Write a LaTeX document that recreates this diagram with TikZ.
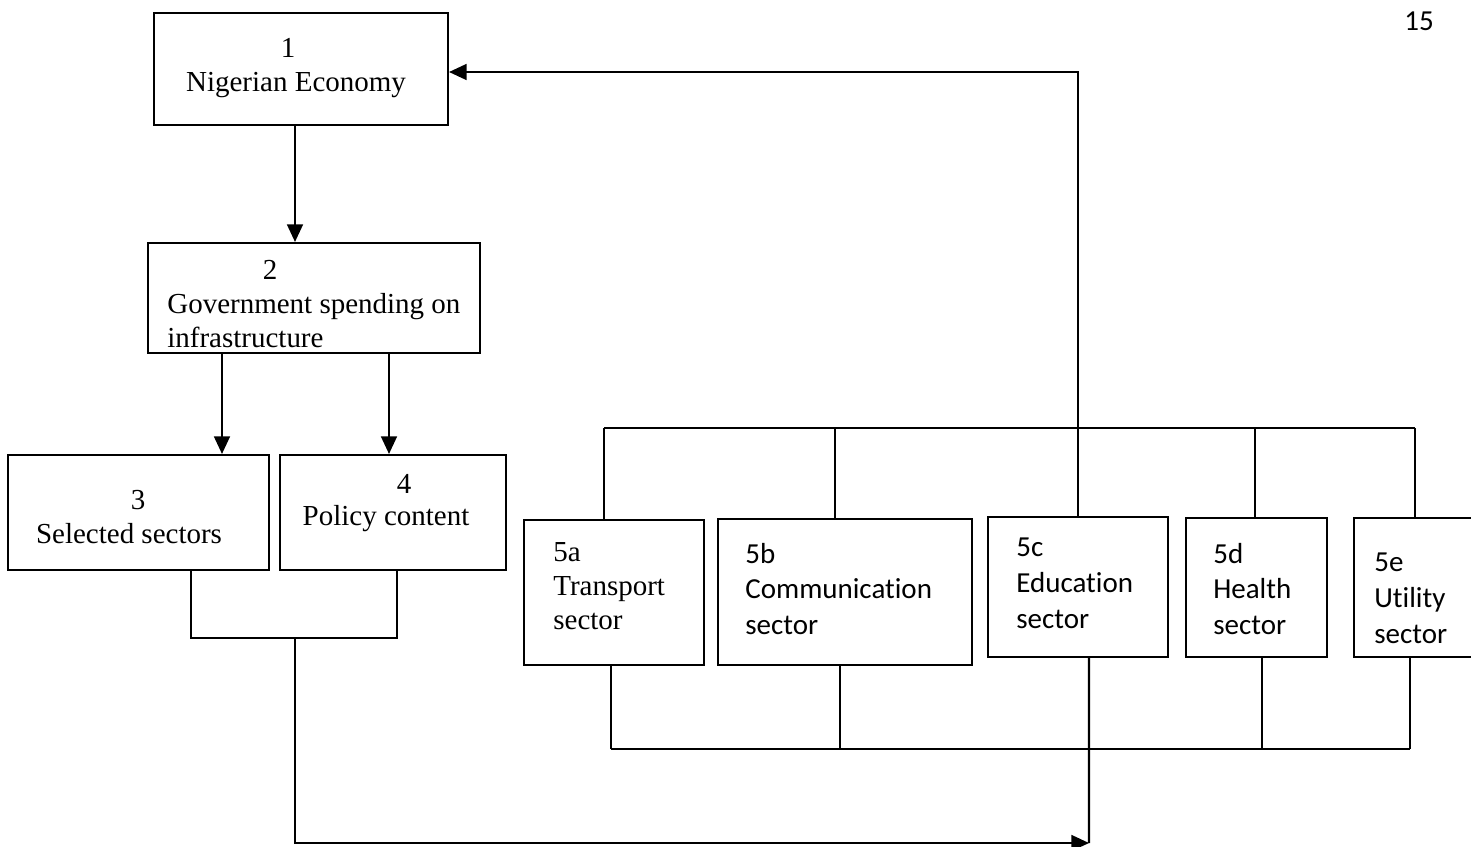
\documentclass[tikz,border=0pt]{standalone}
\usepackage{fontspec}
\setmainfont{Liberation Serif}
\newfontfamily\calibrifont[Ligatures=NoCommon]{Carlito}
\usetikzlibrary{positioning, arrows.meta, calc}

\tikzset{
	sbox/.style={draw, line width=1.2pt, inner sep=0pt},
	stxt/.style={inner sep=0pt, align=left, font=\fontsize{16.5}{19.3}\selectfont},
	ctxt/.style={inner sep=0pt, align=left, font=\calibrifont\fontsize{16.5}{20.4}\selectfont},
	link/.style={line width=1.2pt},
	arr/.style={line width=1.2pt, -{Triangle[length=10pt,width=9pt]}}
}

\begin{document}
\begin{tikzpicture}[x=0.02cm, y=-0.02cm]
	\useasboundingbox (0,0) rectangle (1471,846);

	% boxes
	\node [sbox, minimum width=5.88cm, minimum height=2.24cm] (n1) at (301,69) {};
	\node [sbox, minimum width=6.64cm, minimum height=2.2cm] (n2) at (314,298) {};
	\node [sbox, minimum width=5.22cm, minimum height=2.3cm] (n3) at (138.5,512.5) {};
	\node [sbox, minimum width=4.52cm, minimum height=2.3cm] (n4) at (393,512.5) {};
	\node [sbox, minimum width=3.6cm, minimum height=2.9cm] (n5a) at (614,592.5) {};
	\node [sbox, minimum width=5.08cm, minimum height=2.92cm] (n5b) at (845,592) {};
	\node [sbox, minimum width=3.6cm, minimum height=2.8cm] (n5c) at (1078,587) {};
	\node [sbox, minimum width=2.82cm, minimum height=2.78cm] (n5d) at (1256.5,587.5) {};
	\node [sbox, minimum width=2.44cm, minimum height=2.78cm] (n5e) at (1415,587.5) {};

	% texts
	\node [stxt] (t1num) at (288,48) {1};
	\node [stxt] (t1) at (296,85) {Nigerian Economy};
	\node [stxt] (t2num) at (270,270) {2};
	\node [stxt, anchor=west] (t2) at (167,321) {Government spending on\\infrastructure};
	\node [stxt] (t3num) at (138,500) {3};
	\node [stxt] (t3) at (129,534) {Selected sectors};
	\node [stxt] (t4num) at (404,484) {4};
	\node [stxt] (t4) at (386,519) {Policy content};
	\node [stxt, anchor=west] (t5a) at (553,586) {5a\\Transport\\sector};
	\node [ctxt, anchor=west] (t5b) at (745,589) {5b\\Communication\\sector};
	\node [ctxt, anchor=west] (t5c) at (1016,583) {5c\\Education\\sector};
	\node [ctxt, anchor=west] (t5d) at (1213,589) {5d\\Health\\sector};
	\node [ctxt, anchor=west] (t5e) at (1374,598) {5e\\Utility\\sector};
	\node [ctxt] (pg) at (1419,21) {15};

	% bus lines and joins
	\coordinate (tb) at (0,428);
	\coordinate (bb) at (0,749);
	\coordinate (j34) at (295,638);
	\coordinate (tip) at (1089,843);

	% left side
	\draw [arr] ([xshift=-0.12cm]n1.south) -- ([xshift=-0.12cm]n1.south |- n2.north);
	\draw [arr] ([xshift=1.67cm]n3.north |- n2.south) -- ([xshift=1.67cm]n3.north);
	\draw [arr] ([xshift=-0.08cm]n4.north |- n2.south) -- ([xshift=-0.08cm]n4.north);
	\draw [link] ([xshift=1.05cm]n3.south) |- (j34) -| ([xshift=0.08cm]n4.south);
	\draw [arr] (j34) |- (tip);

	% sector 5 top bus and feedback to 1
	\draw [link] ([xshift=-0.2cm]n5a.north |- tb) -- (n5e.north |- tb);
	\foreach \n/\dx in {5a/-0.2, 5b/-0.2, 5c/0, 5d/-0.03, 5e/0}
	\draw [link] ([xshift=\dx cm]n\n.north) -- ([xshift=\dx cm]n\n.north |- tb);
	\draw [arr] (n5c.north |- tb) |- ([yshift=-0.06cm]n1.east);

	% sector 5 bottom bus
	\draw [link] ([xshift=-0.06cm]n5a.south |- bb) -- ([xshift=-0.1cm]n5e.south |- bb);
	\foreach \n/\dx in {5a/-0.06, 5b/-0.1, 5d/0.11, 5e/-0.1}
	\draw [link] ([xshift=\dx cm]n\n.south) -- ([xshift=\dx cm]n\n.south |- bb);
	\draw [link] ([xshift=0.22cm]n5c.south) -- (tip);
\end{tikzpicture}
\end{document}
